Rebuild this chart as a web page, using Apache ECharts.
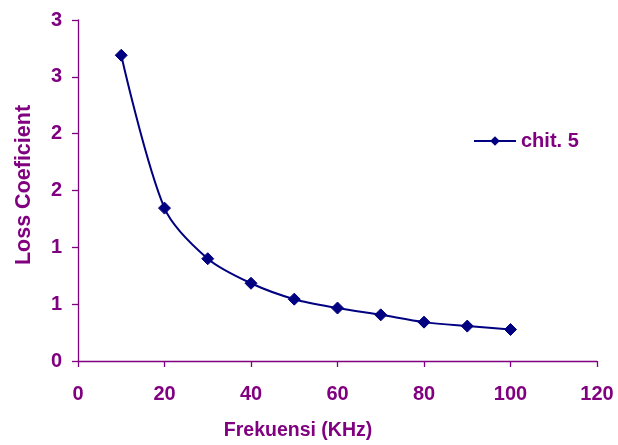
<!DOCTYPE html>
<html>
<head>
<meta charset="utf-8">
<script src="https://cdn.jsdelivr.net/npm/echarts@6/dist/echarts.min.js"></script>
<style>
  html, body { margin: 0; padding: 0; background: #fff; }
  #chart { width: 618px; height: 445px; }
</style>
</head>
<body>
<div id="chart"></div>
<script>
// Loss coefficient vs frequency
const frequencies = [10, 20, 30, 40, 50, 60, 70, 80, 90, 100];
const lossValues = [2.69, 1.345, 0.90, 0.684, 0.544, 0.466, 0.406, 0.342, 0.307, 0.277];
const seriesName = 'chit. 5';
const xTitle = 'Frekuensi (KHz)';
const yTitle = 'Loss Coeficient';
// y tick labels as formatted with zero decimals (0.5 steps)
const yTickLabels = ['0', '1', '1', '2', '2', '3', '3'];

const purple = '#800080';
const navy = '#000080';
const fontFamily = '"Liberation Sans", Arial, sans-serif';

const chart = echarts.init(document.getElementById('chart'), null, { renderer: 'canvas' });

chart.setOption({
  animation: false,
  backgroundColor: '#ffffff',
  grid: { left: 78, right: 21, top: 20, bottom: 84, containLabel: false },
  legend: {
    data: [seriesName],
    orient: 'vertical',
    left: 473,
    top: 131,
    padding: 0,
    itemWidth: 42,
    itemHeight: 12,
    textStyle: { color: purple, fontFamily, fontWeight: 'bold', fontSize: 20 }
  },
  graphic: [
    {
      type: 'text',
      x: 298, y: 431,
      style: {
        text: xTitle, fill: purple, font: 'bold 19.5px ' + fontFamily,
        textAlign: 'center', textVerticalAlign: 'middle'
      }
    },
    {
      type: 'text',
      x: 24, y: 185,
      rotation: Math.PI / 2,
      style: {
        text: yTitle, fill: purple, font: 'bold 21.5px ' + fontFamily,
        textAlign: 'center', textVerticalAlign: 'middle'
      }
    }
  ],
  xAxis: {
    type: 'value',
    min: 0, max: 120, interval: 20,
    axisLine: { show: true, lineStyle: { color: purple, width: 1.3 } },
    axisTick: { show: true, length: 6, inside: false, lineStyle: { color: purple, width: 1.3 } },
    axisLabel: { color: purple, fontFamily, fontWeight: 'bold', fontSize: 20, margin: 23 },
    splitLine: { show: false }
  },
  yAxis: {
    type: 'value',
    min: 0, max: 3, interval: 0.5,
    axisLine: { show: true, lineStyle: { color: purple, width: 1.3 } },
    axisTick: { show: true, length: 6, inside: false, lineStyle: { color: purple, width: 1.3 } },
    axisLabel: {
      color: purple, fontFamily, fontWeight: 'bold', fontSize: 20, margin: 16,
      formatter: (v) => yTickLabels[Math.round(v / 0.5)]
    },
    splitLine: { show: false }
  },
  series: [{
    name: seriesName,
    type: 'line',
    data: frequencies.map((f, i) => [f, lossValues[i]]),
    smooth: 0.3,
    symbol: 'diamond',
    symbolSize: 12,
    lineStyle: { color: navy, width: 2 },
    itemStyle: { color: navy, borderColor: navy }
  }]
});
</script>
</body>
</html>
